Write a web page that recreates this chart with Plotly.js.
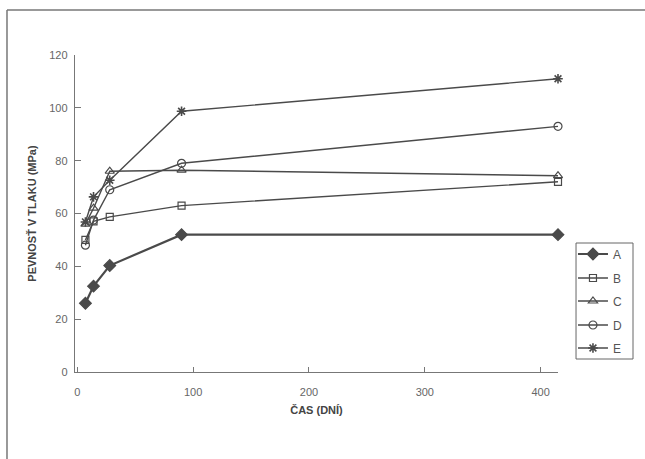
<!DOCTYPE html>
<html>
<head>
<meta charset="utf-8">
<script src="https://cdn.plot.ly/plotly-3.0.1.min.js"></script>
<style>html,body{margin:0;padding:0;background:#fff;}#chart{width:645px;height:459px;}</style>
</head>
<body>
<div id="chart"></div>
<script>
const days = [7, 14, 28, 90, 415];
const seriesNames = ["A", "B", "C", "D", "E"];
const valuesA = [26, 32.5, 40.3, 52, 52];
const valuesB = [50, 57, 58.7, 63, 72];
const valuesC = [56, 62, 76, 76.4, 74.3];
const valuesD = [48, 57.5, 69, 79, 93];
const valuesE = [56.8, 66.3, 72.6, 98.7, 111];
const xTicks = [0, 100, 200, 300, 400];
const yTicks = [0, 20, 40, 60, 80, 100, 120];

const lineColor = "#4a4a4a";
const symbols = ["diamond", "square-open", "triangle-up-open", "circle-open", "asterisk-open"];
const sizes = [9, 7, 8, 8, 8];
const widths = [2.2, 1.4, 1.4, 1.4, 1.4];
const allValues = [valuesA, valuesB, valuesC, valuesD, valuesE];
const legendIds = ["legend", "legend2", "legend3", "legend4", "legend5"];
const legendCentersY = [0.3722, 0.2965, 0.2240, 0.1483, 0.0757];

const traces = allValues.map((v, i) => ({
  x: days,
  y: v,
  name: seriesNames[i],
  legend: legendIds[i],
  type: "scatter",
  mode: "lines+markers",
  cliponaxis: false,
  line: {color: lineColor, width: widths[i]},
  marker: {symbol: symbols[i], size: sizes[i], color: lineColor,
           line: {color: lineColor, width: i === 4 ? 1.6 : 1.2}}
}));

const axisFont = {family: "Liberation Sans, Arial, sans-serif", size: 11, color: "#666"};
const titleFont = {family: "Liberation Sans, Arial, sans-serif", size: 11, color: "#444", weight: "bold"};
const legendFont = {family: "Liberation Sans, Arial, sans-serif", size: 12, color: "#555"};

const layout = {
  width: 645, height: 459,
  margin: {l: 75, r: 87, t: 55, b: 87},
  paper_bgcolor: "#fff", plot_bgcolor: "#fff",
  showlegend: true,
  xaxis: {
    range: [-2, 415], tickvals: xTicks, ticktext: xTicks.map(String),
    showgrid: false, zeroline: false, showline: true, linecolor: "#777", linewidth: 1.2,
    ticks: "inside", ticklen: 5, tickcolor: "#777", ticklabelstandoff: 10,
    tickfont: axisFont,
    title: {text: "ČAS (DNÍ)", font: titleFont, standoff: 8}
  },
  yaxis: {
    range: [0, 120], tickvals: yTicks, ticktext: yTicks.map(String),
    showgrid: false, zeroline: false, showline: true, linecolor: "#777", linewidth: 1.2,
    ticks: "inside", ticklen: 6, tickcolor: "#777", ticklabelstandoff: 4,
    tickfont: axisFont,
    title: {text: "PEVNOSŤ V TLAKU (MPa)", font: titleFont, standoff: 10}
  },
  shapes: [
    {type: "line", xref: "paper", yref: "paper", x0: -0.1408, x1: 1.2, y0: 1.142, y1: 1.142,
     line: {color: "#777", width: 1.5}},
    {type: "line", xref: "paper", yref: "paper", x0: -0.1408, x1: -0.1408, y0: 1.142, y1: -0.3,
     line: {color: "#777", width: 1.5}},
    {type: "rect", xref: "paper", yref: "paper", x0: 1.0373, x1: 1.1553, y0: 0.0410, y1: 0.4069,
     line: {color: "#666", width: 1}}
  ]
};

legendIds.forEach((id, i) => {
  layout[id] = {
    x: 1.031, xanchor: "left", y: legendCentersY[i], yanchor: "middle",
    bgcolor: "rgba(0,0,0,0)", borderwidth: 0,
    font: legendFont, itemwidth: 30
  };
});

Plotly.newPlot("chart", traces, layout, {staticPlot: true, displayModeBar: false});
</script>
</body>
</html>
